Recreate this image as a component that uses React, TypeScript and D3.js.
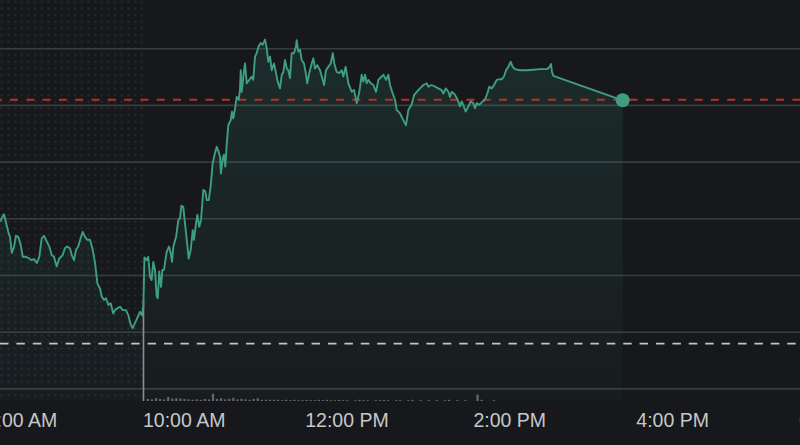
import React from "react";
import * as d3 from "d3";

// minute-of-day timestamps of the price line
const TIMES: number[] = [
  464.2, 465.5, 467.2, 468.7, 470.3, 471.6, 472.9, 474.6, 476.0, 477.7,
  479.5, 481.0, 483.4, 485.8, 487.6, 489.3, 491.3, 493.2, 495.0, 496.7,
  498.7, 500.6, 502.3, 504.0, 506.0, 507.9, 510.4, 512.1, 513.8, 515.8,
  517.1, 518.8, 520.2, 521.9, 523.7, 525.2, 526.9, 528.6, 530.6, 532.6,
  534.3, 536.0, 537.9, 539.2, 540.9, 542.4, 544.1, 545.8, 547.7, 549.0,
  550.7, 552.7, 554.7, 557.1, 558.8, 560.6, 562.0, 563.7, 565.4, 567.4,
  568.9, 569.9,
  570.7, 572.4, 573.5, 574.8, 576.0, 577.2, 578.5, 579.7, 580.5, 581.6,
  582.9, 583.9, 585.1, 587.1, 588.8, 590.1, 591.0, 592.0, 594.0, 595.7,
  596.9, 597.9, 599.3, 600.6, 601.9, 603.3, 604.8, 606.3, 607.2, 608.7,
  609.7, 611.1, 612.4, 614.1, 615.6, 616.6, 618.1, 619.5, 621.0, 622.7,
  624.0, 625.4, 626.4, 627.1, 628.4, 629.3, 630.3, 631.3, 632.5, 634.3,
  635.2, 636.2, 637.5, 638.7, 640.2, 641.1, 641.7, 642.4, 643.6, 644.8,
  646.1, 648.0, 649.8, 650.9, 652.2, 653.4, 654.8, 656.4, 657.9, 659.6,
  660.8, 662.0, 663.3, 664.5, 666.2, 667.7, 668.9, 670.6, 671.9, 673.1,
  674.3, 675.6, 676.7, 678.0, 679.2, 680.9, 682.4, 682.9, 684.1, 685.4,
  686.6, 688.3, 689.8, 690.7, 692.2, 694.0, 695.2, 696.4, 698.1, 700.1,
  701.4, 703.1, 704.5, 706.2, 708.0, 709.5, 710.6, 712.4, 714.3, 716.1,
  717.3, 719.0, 721.0, 723.5, 725.2, 727.2, 729.1, 730.8, 732.0, 733.3,
  734.5, 735.7, 737.5, 739.4, 741.4, 743.1, 745.6, 746.8, 748.8, 750.5,
  751.7, 753.7, 755.4, 756.6, 759.1, 761.5, 763.5, 765.2, 767.7, 769.4,
  771.4, 773.8, 776.3, 778.8, 779.9, 782.4, 784.9, 787.3, 789.8, 791.0,
  792.8, 794.7, 795.9, 797.2, 798.9, 800.9, 802.0, 803.3, 804.6, 805.7,
  807.5, 809.4, 811.2, 813.1, 814.4, 815.6, 817.5, 820.0, 821.7, 823.4,
  824.9, 826.7, 828.4, 830.4, 832.3, 834.0, 835.7, 837.2, 838.9, 840.7,
  842.1, 843.8, 847.5, 852.5, 857.3, 862.3, 867.2, 869.1, 870.4, 871.1,
  872.1, 923.2,
];

const PRICES: number[] = [
  102.95, 103.01, 103.08, 102.93, 102.77, 102.68, 102.4, 102.51, 102.7, 102.68,
  102.54, 102.33, 102.33, 102.3, 102.27, 102.29, 102.22, 102.33, 102.66, 102.7,
  102.6, 102.51, 102.36, 102.33, 102.16, 102.3, 102.36, 102.48, 102.51, 102.48,
  102.36, 102.27, 102.45, 102.51, 102.66, 102.77, 102.68, 102.63, 102.63, 102.45,
  102.22, 101.86, 101.77, 101.63, 101.57, 101.6, 101.48, 101.51, 101.33, 101.39,
  101.42, 101.45, 101.39, 101.39, 101.3, 101.13, 101.07, 101.16, 101.25, 101.36,
  101.3, 101.45,
  102.32, 102.27, 102.33, 101.98, 101.92, 102.24, 102.1, 101.63, 101.6, 102.07,
  101.8, 102.1, 102.1, 102.42, 102.51, 102.39, 102.24, 102.51, 102.68, 102.98,
  103.01, 103.23, 103.21, 102.92, 102.63, 102.3, 102.45, 102.8, 102.63, 102.92,
  103.07, 102.86, 102.98, 103.51, 103.48, 103.33, 103.33, 103.57, 103.98, 104.16,
  104.27, 104.18, 104.1, 103.8, 104.07, 104.13, 103.92, 104.3, 104.65, 104.74,
  104.89, 104.77, 104.95, 105.15, 105.1, 105.27, 105.62, 105.24, 105.51, 105.74,
  105.39, 105.45, 105.51, 105.45, 105.86, 105.92, 106.04, 106.1, 106.07, 106.16,
  106.01, 105.77, 105.86, 105.62, 105.74, 105.57, 105.42, 105.3, 105.54, 105.59,
  105.8, 105.65, 105.62, 105.48, 105.92, 105.92, 106.04, 106.15, 105.95, 105.98,
  105.8, 105.74, 105.54, 105.39, 105.57, 105.74, 105.83, 105.65, 105.71, 105.62,
  105.51, 105.36, 105.62, 105.68, 105.74, 105.92, 105.74, 105.59, 105.57, 105.62,
  105.51, 105.68, 105.39, 105.24, 105.27, 105.04, 105.24, 105.54, 105.42, 105.54,
  105.39, 105.45, 105.39, 105.36, 105.24, 105.45, 105.51, 105.54, 105.45, 105.54,
  105.36, 105.21, 105.1, 104.92, 104.86, 104.74, 104.65, 104.92, 105.02, 105.18,
  105.24, 105.3, 105.36, 105.39, 105.33, 105.36, 105.33, 105.3, 105.27, 105.21,
  105.3, 105.24, 105.15, 105.24, 105.21, 105.13, 105.07, 104.98, 105.07, 105.01,
  104.89, 104.98, 105.07, 105.04, 104.95, 105.04, 105.01, 105.07, 105.1, 105.21,
  105.33, 105.3, 105.36, 105.45, 105.46, 105.46, 105.51, 105.62, 105.68, 105.77,
  105.68, 105.64, 105.62, 105.62, 105.63, 105.64, 105.64, 105.67, 105.73, 105.59,
  105.52, 105.09,
];

// 3-minute volume bars starting at the 9:30 open (thousands of shares)
const VOLUME_START = 570;
const VOLUME_STEP = 3;
const VOLUMES: number[] = [
  250, 5, 4, 7, 5, 4, 10, 6, 7, 6,
  5, 4, 3, 4, 3, 5, 4, 18, 5, 7,
  4, 5, 8, 4, 5, 4, 3, 5, 7, 3,
  3, 3, 3, 3, 2, 3, 2, 3, 2, 2,
  3, 2, 2, 3, 2, 3, 2, 2, 3, 2,
  2, 0, 2, 3, 2, 2, 0, 2, 2, 3,
  2, 0, 2, 2, 0, 2, 3, 0, 2, 0,
  2, 0, 2, 0, 2, 3, 0, 2, 0, 2,
  0, 0, 16, 3, 0, 0, 2, 0,
];

const GRID_PRICES = [100, 101, 102, 103, 104, 105, 106];
const PREV_CLOSE = 100.8;
const ALERT_PRICE = 105.1;
const SESSION_OPEN = 570;
const DOMAIN_START = 464.23;
const DOMAIN_END = 1053.9;
const TICK_TIMES = [480, 600, 720, 840, 960, 1080];
const TICK_LABELS = ["8:00 AM", "10:00 AM", "12:00 PM", "2:00 PM", "4:00 PM", "6:00 PM"];

const W = 800;
const H = 445;

const toDate = (m: number) => new Date(2024, 0, 2, 0, 0, 0, Math.round(m * 60000));

export default function App() {
  const x = d3.scaleTime().domain([toDate(DOMAIN_START), toDate(DOMAIN_END)]).range([0, W]);
  const y = d3.scaleLinear().domain([100, 106]).range([388.9, 48.7]);
  const vy = d3.scaleLinear().domain([0, 250]).range([401, 301]);

  const n = Math.min(TIMES.length, PRICES.length);
  const data = d3.range(n).map((i) => ({ date: toDate(TIMES[i]), price: PRICES[i] }));

  const line = d3
    .line<{ date: Date; price: number }>()
    .x((d) => x(d.date))
    .y((d) => y(d.price));
  const area = d3
    .area<{ date: Date; price: number }>()
    .x((d) => x(d.date))
    .y0(401)
    .y1((d) => y(d.price));

  const openX = x(toDate(SESSION_OPEN));
  const last = data[data.length - 1];
  const lineColor = "#3f9e82";

  return (
    <svg
      width={W}
      height={H}
      style={{ position: "fixed", left: 0, top: 0, display: "block" }}
      xmlns="http://www.w3.org/2000/svg"
    >
      <defs>
        <pattern id="dots" patternUnits="userSpaceOnUse" x={-1.6} y={-1.6} width={6.67} height={6.67}>
          <circle cx={3.33} cy={3.33} r={1} fill="#2d3035" />
        </pattern>
        <linearGradient id="fillGrad" gradientUnits="userSpaceOnUse" x1={0} y1={40} x2={0} y2={400}>
          <stop offset="0%" stopColor={lineColor} stopOpacity={0.15} />
          <stop offset="100%" stopColor={lineColor} stopOpacity={0.03} />
        </linearGradient>
      </defs>
      <rect x={0} y={0} width={W} height={H} fill="#16181c" />
      <rect x={0} y={0} width={openX} height={400} fill="url(#dots)" />

      {GRID_PRICES.map((p) => (
        <line key={p} x1={0} x2={W} y1={y(p)} y2={y(p)} stroke="#393c41" strokeWidth={1.6} />
      ))}

      <path d={area(data) || ""} fill="url(#fillGrad)" />

      {VOLUMES.map((v, i) => {
        const t = toDate(VOLUME_START + i * VOLUME_STEP);
        if (v <= 0) return null;
        return (
          <rect
            key={i}
            x={x(t) - 0.8}
            y={vy(v)}
            width={i === 0 ? 1.6 : 2.2}
            height={vy(0) - vy(v)}
            fill={i === 0 ? "#8a8d92" : "#65696e"}
          />
        );
      })}

      <line
        x1={0}
        x2={W}
        y1={y(ALERT_PRICE)}
        y2={y(ALERT_PRICE)}
        stroke="#bb2f2a"
        strokeWidth={1.8}
        strokeDasharray="8 8.3"
        strokeDashoffset={6.3}
      />
      <line
        x1={0}
        x2={W}
        y1={y(PREV_CLOSE)}
        y2={y(PREV_CLOSE)}
        stroke="#c3c4c6"
        strokeWidth={1.7}
        strokeDasharray="8.5 7.9"
      />

      <path d={line(data) || ""} fill="none" stroke={lineColor} strokeWidth={1.9} strokeLinejoin="round" />
      <circle cx={x(last.date)} cy={y(last.price)} r={7} fill={lineColor} />

      {TICK_TIMES.map((t, i) => (
        <text
          key={t}
          x={x(toDate(t))}
          y={427.3}
          textAnchor="middle"
          fontFamily="'Liberation Sans', Arial, sans-serif"
          fontSize={19.5}
          fill="#c6c7c9"
        >
          {TICK_LABELS[i]}
        </text>
      ))}
    </svg>
  );
}
